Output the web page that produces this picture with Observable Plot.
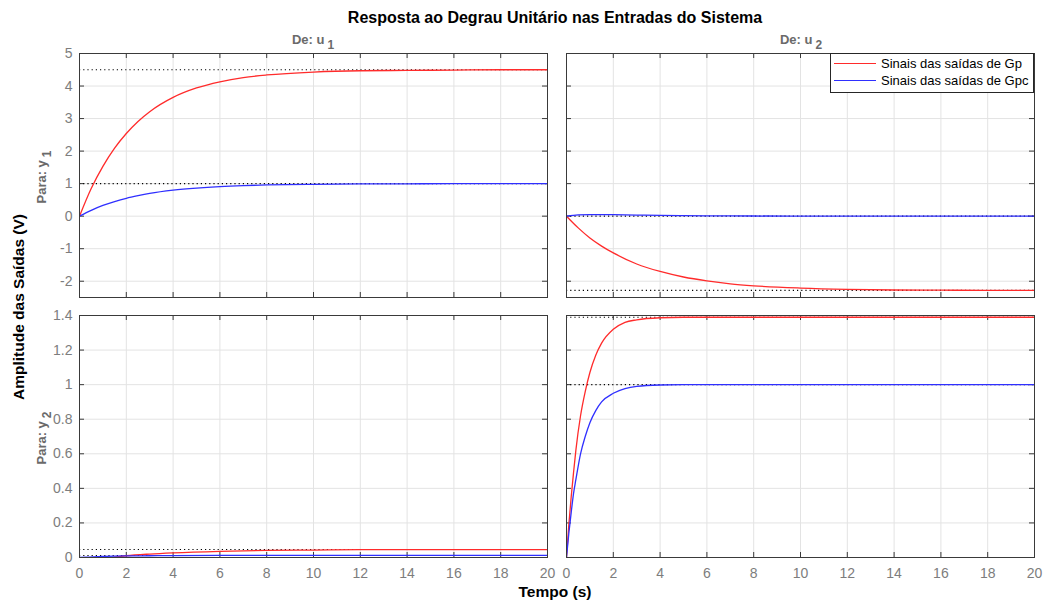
<!DOCTYPE html>
<html>
<head>
<meta charset="utf-8">
<script src="https://cdn.jsdelivr.net/npm/d3@7"></script>
<script src="https://cdn.jsdelivr.net/npm/@observablehq/plot@0.6"></script>
<style>
  html, body { margin: 0; padding: 0; background: #fff; }
  #fig { position: relative; width: 1045px; height: 603px; background: #fff;
         font-family: "Liberation Sans", Arial, Helvetica, sans-serif; overflow: hidden; }
  .abs { position: absolute; white-space: nowrap; }
  .rot { transform: translate(-50%, -50%) rotate(-90deg); }
  .ctr { transform: translate(-50%, -50%); }
  sub { font-size: 0.92em; vertical-align: -0.4em; margin-left: 3px; line-height: 0; }
</style>
</head>
<body>
<div id="fig"></div>
<script>
// ---------- data ----------
const xTicks = [0, 2, 4, 6, 8, 10, 12, 14, 16, 18, 20];
const yTicksTop = [-2, -1, 0, 1, 2, 3, 4, 5];
const yTicksBottom = [0, 0.2, 0.4, 0.6, 0.8, 1, 1.2, 1.4];
const yDomainTop = [-2.5, 5];
const yDomainBottom = [0, 1.4];

// y1 from u1
const tY1U1 = [0, 0.5, 1, 1.5, 2, 2.5, 3, 4, 5, 6, 7, 8, 10, 12, 14, 16, 18, 20];
const gpY1U1 = [0, 0.85, 1.53, 2.09, 2.54, 2.91, 3.21, 3.65, 3.94, 4.13, 4.26, 4.34, 4.43, 4.47, 4.48, 4.49, 4.5, 4.5];
const gpcY1U1 = [0, 0.18, 0.33, 0.45, 0.55, 0.63, 0.70, 0.80, 0.865, 0.91, 0.94, 0.96, 0.98, 0.99, 0.995, 1.0, 1.0, 1.0];

// y1 from u2
const tY1U2 = [0, 0.5, 1, 1.5, 2, 3, 4, 5, 6, 7, 8, 10, 12, 14, 16, 18, 20];
const gpY1U2 = [0, -0.36, -0.67, -0.92, -1.13, -1.47, -1.70, -1.87, -1.99, -2.08, -2.14, -2.21, -2.25, -2.27, -2.275, -2.28, -2.28];
const gpcY1U2 = [0, 0.04, 0.05, 0.05, 0.045, 0.035, 0.025, 0.018, 0.012, 0.008, 0.005, 0.002, 0.001, 0, 0, 0, 0];

// y2 from u1
const tY2U1 = [0, 0.3, 0.6, 1, 1.5, 2, 3, 4, 6, 8, 10, 12, 14, 16, 18, 20];
const gpY2U1 = [0, -0.008, -0.01, -0.006, 0.002, 0.01, 0.02, 0.027, 0.036, 0.041, 0.043, 0.045, 0.046, 0.046, 0.046, 0.046];
const gpcY2U1 = [0, 0.002, 0.004, 0.006, 0.008, 0.009, 0.010, 0.011, 0.012, 0.012, 0.012, 0.012, 0.012, 0.012, 0.012, 0.012];

// y2 from u2
const tY2U2 = [0, 0.1, 0.2, 0.3, 0.4, 0.6, 0.8, 1, 1.25, 1.5, 2, 2.5, 3, 4, 5, 6, 8, 10, 20];
const gpY2U2 = [0, 0.19, 0.35, 0.49, 0.62, 0.82, 0.96, 1.07, 1.17, 1.24, 1.32, 1.36, 1.375, 1.387, 1.39, 1.39, 1.39, 1.39, 1.39];
const gpcY2U2 = [0, 0.14, 0.26, 0.37, 0.45, 0.60, 0.70, 0.78, 0.85, 0.90, 0.95, 0.977, 0.99, 0.998, 1, 1, 1, 1, 1];

// steady-state values (dotted lines)
const steadyGp = [4.5, -2.28, 0.046, 1.39];
const steadyGpc = [1.0, 0, 0.012, 1.0];

const titleText = "Resposta ao Degrau Unitário nas Entradas do Sistema";
const xLabel = "Tempo (s)";
const yLabel = "Amplitude das Saídas (V)";
const legendLabels = ["Sinais das saídas de Gp", "Sinais das saídas de Gpc"];

// ---------- styling ----------
const RED = "#ff2b2b";
const BLUE = "#2f2fff";
const GRID = "#e3e3e3";
const FRAME = "#3a3a3a";
const TICKTXT = "#7d7d7d";
const FONT = "'Liberation Sans', Arial, Helvetica, sans-serif";

const fig = document.getElementById("fig");

function toRows(t, v) { return t.map((d, i) => ({t: d, v: v[i]})); }

function panel({left, top, w, h, t, gp, gpc, ssGp, ssGpc, yDomain, yTicks, showX, showY}) {
  const mL = 50, mR = 6, mT = 6, mB = 34;
  const [y0, y1] = yDomain;
  const tickLenY = (y1 - y0) * 5 / h;
  const tickLenX = 20 * 5 / w;
  const marks = [
    Plot.ruleX(xTicks, {stroke: GRID, strokeWidth: 1}),
    Plot.ruleY(yTicks, {stroke: GRID, strokeWidth: 1}),
    Plot.ruleX(xTicks, {x: d => d, y1: y0, y2: y0 + tickLenY, stroke: FRAME}),
    Plot.ruleX(xTicks, {x: d => d, y1: y1, y2: y1 - tickLenY, stroke: FRAME}),
    Plot.ruleY(yTicks, {y: d => d, x1: 0, x2: tickLenX, stroke: FRAME}),
    Plot.ruleY(yTicks, {y: d => d, x1: 20, x2: 20 - tickLenX, stroke: FRAME}),
    Plot.ruleY([ssGp, ssGpc], {stroke: "#000", strokeWidth: 1.1, strokeDasharray: "1.2,3"}),
    Plot.line(toRows(t, gp), {x: "t", y: "v", stroke: RED, strokeWidth: 1.3, curve: "monotone-x", clip: true}),
    Plot.line(toRows(t, gpc), {x: "t", y: "v", stroke: BLUE, strokeWidth: 1.3, curve: "monotone-x", clip: true}),
    Plot.frame({stroke: FRAME, strokeWidth: 1})
  ];
  if (showX) marks.push(Plot.axisX(xTicks, {tickSize: 0, tickPadding: 11, tickFormat: d => String(d), color: TICKTXT, fontSize: 14, label: null}));
  if (showY) marks.push(Plot.axisY(yTicks, {tickSize: 0, tickPadding: 7, tickFormat: d => String(d), color: TICKTXT, fontSize: 14, label: null}));
  const chart = Plot.plot({
    width: w + mL + mR,
    height: h + mT + mB,
    marginLeft: mL, marginRight: mR, marginTop: mT, marginBottom: mB,
    x: showX ? {domain: [0, 20]} : {domain: [0, 20], axis: null},
    y: showY ? {domain: yDomain} : {domain: yDomain, axis: null},
    style: {fontFamily: FONT, fontSize: "14px", background: "transparent", overflow: "visible"},
    marks
  });
  chart.style.position = "absolute";
  chart.style.left = (left - mL) + "px";
  chart.style.top = (top - mT) + "px";
  fig.appendChild(chart);
}

const W = 468;
panel({left: 79, top: 53, w: W, h: 244, t: tY1U1, gp: gpY1U1, gpc: gpcY1U1, ssGp: steadyGp[0], ssGpc: steadyGpc[0], yDomain: yDomainTop, yTicks: yTicksTop, showX: false, showY: true});
panel({left: 566, top: 53, w: W, h: 244, t: tY1U2, gp: gpY1U2, gpc: gpcY1U2, ssGp: steadyGp[1], ssGpc: steadyGpc[1], yDomain: yDomainTop, yTicks: yTicksTop, showX: false, showY: false});
panel({left: 79, top: 315, w: W, h: 242, t: tY2U1, gp: gpY2U1, gpc: gpcY2U1, ssGp: steadyGp[2], ssGpc: steadyGpc[2], yDomain: yDomainBottom, yTicks: yTicksBottom, showX: true, showY: true});
panel({left: 566, top: 315, w: W, h: 242, t: tY2U2, gp: gpY2U2, gpc: gpcY2U2, ssGp: steadyGp[3], ssGpc: steadyGpc[3], yDomain: yDomainBottom, yTicks: yTicksBottom, showX: true, showY: false});

// ---------- texts ----------
function addText(html, x, y, cls, style) {
  const d = document.createElement("div");
  d.className = "abs " + cls;
  d.innerHTML = html;
  d.style.left = x + "px";
  d.style.top = y + "px";
  Object.assign(d.style, style);
  fig.appendChild(d);
  return d;
}
addText(titleText, 555, 18, "ctr", {fontWeight: "bold", fontSize: "16px", color: "#000"});
addText(xLabel, 555, 592, "ctr", {fontWeight: "bold", fontSize: "15.5px", color: "#000"});
addText(yLabel, 19, 307, "rot", {fontWeight: "bold", fontSize: "15.5px", color: "#000"});
const ioStyle = {fontWeight: "bold", fontSize: "13px", color: "#6a6a6a"};
addText("De: u<sub>1</sub>", 313, 39, "ctr", ioStyle);
addText("De: u<sub>2</sub>", 801, 39, "ctr", ioStyle);
addText("Para: y<sub>1</sub>", 41, 177, "rot", ioStyle);
addText("Para: y<sub>2</sub>", 41, 438, "rot", ioStyle);

// ---------- legend ----------
const leg = document.createElement("div");
leg.className = "abs";
Object.assign(leg.style, {left: "830px", top: "53px", width: "202px", height: "38px", border: "1px solid #262626", background: "#fff"});
[RED, BLUE].forEach((c, i) => {
  const ln = document.createElement("div");
  Object.assign(ln.style, {position: "absolute", left: "3px", top: (9 + i * 17) + "px", width: "42px", height: "0", borderTop: "1.5px solid " + c});
  leg.appendChild(ln);
  const tx = document.createElement("div");
  Object.assign(tx.style, {position: "absolute", left: "50px", top: (1 + i * 17) + "px", fontSize: "13px", color: "#000", lineHeight: "17px", whiteSpace: "nowrap"});
  tx.textContent = legendLabels[i];
  leg.appendChild(tx);
});
fig.appendChild(leg);
</script>
</body>
</html>
